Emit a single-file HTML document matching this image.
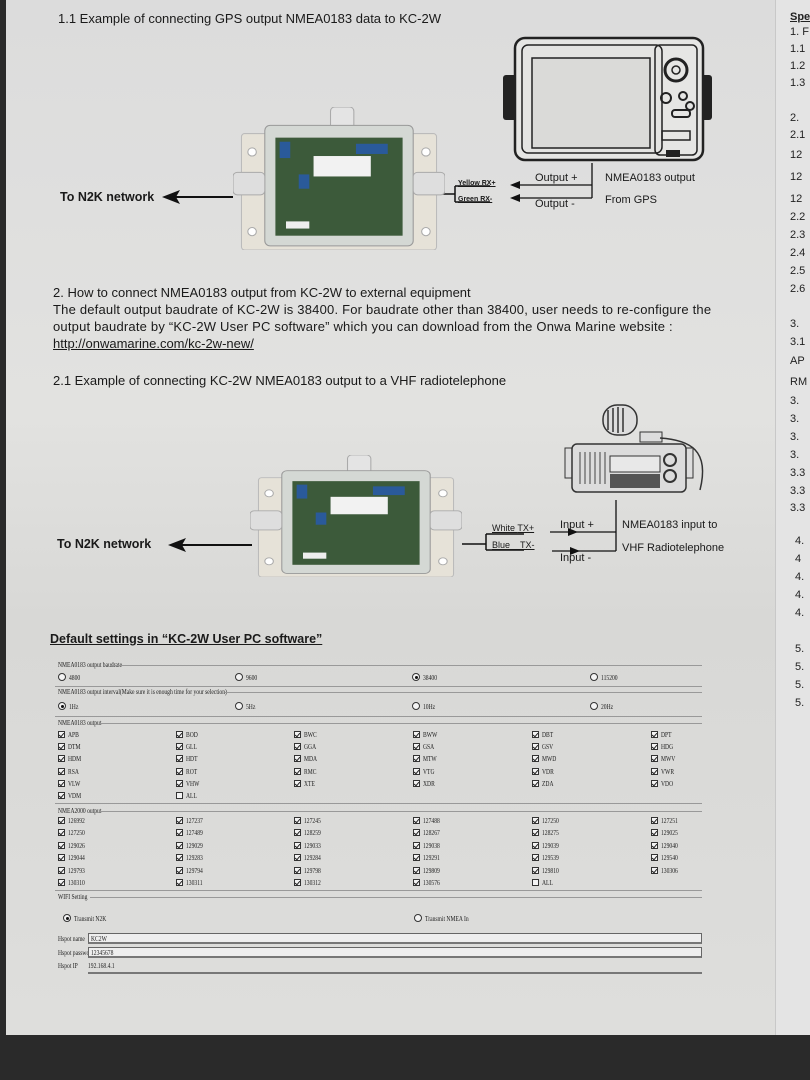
<!DOCTYPE html>
<html><head><meta charset="utf-8">
<style>
*{margin:0;padding:0;box-sizing:border-box}
body{width:810px;height:1080px;overflow:hidden;background:#2a2a2a;font-family:"Liberation Sans",sans-serif;color:#1a1a1a;position:relative}
.page{position:absolute;left:6px;top:0;width:770px;height:1035px;background:linear-gradient(180deg,#dcdcdc 0%,#e2e2e0 40%,#d8d8d6 60%,#dededc 100%)}
.rp{position:absolute;left:775px;top:0;width:35px;height:1035px;background:#e4e4e4;border-left:1px solid #c8c8c8}
.t{position:absolute;white-space:nowrap;font-size:13px;line-height:15px}
.s{position:absolute;white-space:nowrap;font-family:"Liberation Serif",serif;font-size:7px;line-height:8px;color:#222;transform:scaleX(0.8);transform-origin:left}
.cb{position:absolute;width:7px;height:7px;border:1px solid #333;background:#f4f4f4}
.cb.c::after{content:"";position:absolute;left:1px;top:0px;width:2px;height:4px;border:solid #222;border-width:0 1px 1px 0;transform:rotate(40deg)}
.rd{position:absolute;width:8px;height:8px;border:1px solid #333;border-radius:50%;background:#f4f4f4}
.rd.c::after{content:"";position:absolute;left:1.5px;top:1.5px;width:3px;height:3px;border-radius:50%;background:#111}
.hl{position:absolute;height:1px;background:#999}
.box{position:absolute;height:11px;border:1px solid #666;border-bottom:2px solid #777;background:#eee}
.r{position:absolute;left:790px;font-size:11px;color:#222;white-space:nowrap}
</style></head><body>
<div class="page"></div>
<div class="rp"></div>

<svg width="0" height="0" style="position:absolute">
<defs>
<symbol id="dev" viewBox="0 0 200 140" preserveAspectRatio="none">
  <rect x="92" y="0" width="22" height="22" rx="4" fill="#e4e4e4" stroke="#aaa"/>
  <rect x="8" y="26" width="184" height="114" rx="3" fill="#e6e2d8" stroke="#bbb"/>
  <rect x="30" y="18" width="140" height="118" rx="5" fill="#d4d8d4" stroke="#999"/>
  <rect x="40" y="30" width="120" height="96" fill="#3c5a3a"/>
  <rect x="44" y="34" width="10" height="16" fill="#2a5a9a"/>
  <rect x="62" y="66" width="10" height="14" fill="#2a5a9a"/>
  <rect x="116" y="36" width="30" height="10" fill="#2a5a9a"/>
  <rect x="76" y="48" width="54" height="20" fill="#f2f2f2"/>
  <rect x="50" y="112" width="22" height="7" fill="#eee"/>
  <rect x="0" y="64" width="30" height="22" rx="4" fill="#dedede" stroke="#aaa"/>
  <rect x="170" y="64" width="30" height="22" rx="4" fill="#dedede" stroke="#aaa"/>
  <circle cx="18" cy="44" r="4" fill="#fff" stroke="#aaa"/><circle cx="182" cy="44" r="4" fill="#fff" stroke="#aaa"/>
  <circle cx="18" cy="122" r="4" fill="#fff" stroke="#aaa"/><circle cx="182" cy="122" r="4" fill="#fff" stroke="#aaa"/>
</symbol>
</defs></svg>

<div class="t" style="left:58px;top:11px">1.1 Example of connecting GPS output NMEA0183 data to KC-2W</div>

<svg style="position:absolute;left:0;top:0" width="780" height="600">
  <rect x="503" y="75" width="14" height="45" rx="3" fill="#222"/>
  <rect x="701" y="75" width="11" height="45" rx="3" fill="#222"/>
  <rect x="515" y="38" width="188" height="122" rx="10" fill="#e6e6e4" stroke="#222" stroke-width="2.5"/>
  <rect x="522" y="45" width="140" height="108" rx="6" fill="#e4e4e2" stroke="#222" stroke-width="1.5"/>
  <rect x="532" y="58" width="118" height="90" fill="#dadad8" stroke="#222" stroke-width="1.5"/>
  <rect x="655" y="45" width="42" height="110" rx="5" fill="none" stroke="#222" stroke-width="1.5"/>
  <circle cx="676" cy="70" r="11" fill="none" stroke="#222" stroke-width="3"/>
  <circle cx="676" cy="70" r="4" fill="none" stroke="#222" stroke-width="1.5"/>
  <circle cx="666" cy="98" r="5" fill="none" stroke="#222" stroke-width="2"/>
  <circle cx="683" cy="96" r="4" fill="none" stroke="#222" stroke-width="2"/><circle cx="690" cy="106" r="4" fill="none" stroke="#222" stroke-width="2"/>
  <rect x="672" y="110" width="18" height="7" rx="3" fill="none" stroke="#222" stroke-width="2"/>
  <rect x="662" y="131" width="28" height="9" fill="none" stroke="#222" stroke-width="1.5"/>
  <rect x="666" y="150" width="14" height="7" fill="#222"/>
  <polyline points="592,163 592,198" fill="none" stroke="#111" stroke-width="1.3"/>
  <line x1="592" y1="185" x2="514" y2="185" stroke="#111" stroke-width="1.3"/>
  <line x1="592" y1="198" x2="514" y2="198" stroke="#111" stroke-width="1.3"/>
  <polygon points="510,185 520,181 520,189" fill="#111"/>
  <polygon points="510,198 520,194 520,202" fill="#111"/>
  <line x1="455" y1="186" x2="490" y2="186" stroke="#111" stroke-width="1.5"/>
  <line x1="455" y1="202" x2="490" y2="202" stroke="#111" stroke-width="1.5"/>
  <line x1="455" y1="186" x2="455" y2="202" stroke="#111" stroke-width="1.5"/>
  <line x1="440" y1="194" x2="455" y2="194" stroke="#111" stroke-width="1.5"/>
  <line x1="175" y1="197" x2="233" y2="197" stroke="#111" stroke-width="2"/>
  <polygon points="162,197 180,190 176,197 180,204" fill="#111"/>

  <rect x="603" y="405" width="34" height="30" rx="14" fill="#ddd" stroke="#333" stroke-width="1.5"/>
  <path d="M608 410 v20 M613 408 v24 M618 407 v26 M623 408 v24" stroke="#333" stroke-width="1.5"/>
  <rect x="640" y="432" width="22" height="10" fill="#ddd" stroke="#333"/>
  <path d="M660 438 C690 440,710 450,700 490" fill="none" stroke="#333" stroke-width="1.5"/>
  <rect x="565" y="448" width="8" height="30" fill="#ddd" stroke="#333"/>
  <rect x="685" y="448" width="8" height="30" fill="#ddd" stroke="#333"/>
  <rect x="572" y="444" width="114" height="48" rx="5" fill="#dcdcdc" stroke="#333" stroke-width="1.5"/>
  <path d="M580 452 v32 M585 452 v32 M590 452 v32 M595 452 v32 M600 452 v32 M605 452 v32" stroke="#444"/>
  <rect x="610" y="456" width="50" height="16" fill="#e8e8e8" stroke="#333"/>
  <rect x="610" y="474" width="50" height="14" fill="#555"/>
  <circle cx="670" cy="460" r="6" fill="none" stroke="#333" stroke-width="2"/>
  <circle cx="670" cy="476" r="6" fill="none" stroke="#333" stroke-width="2"/>
  <line x1="616" y1="500" x2="616" y2="551" stroke="#111" stroke-width="1.3"/>
  <line x1="550" y1="532" x2="616" y2="532" stroke="#111" stroke-width="1.3"/>
  <line x1="552" y1="551" x2="616" y2="551" stroke="#111" stroke-width="1.3"/>
  <polygon points="578,532 568,528 568,536" fill="#111"/>
  <polygon points="580,551 570,547 570,555" fill="#111"/>
  <line x1="486" y1="534" x2="524" y2="534" stroke="#111" stroke-width="1.5"/>
  <line x1="486" y1="550" x2="524" y2="550" stroke="#111" stroke-width="1.5"/>
  <line x1="486" y1="534" x2="486" y2="550" stroke="#111" stroke-width="1.5"/>
  <line x1="462" y1="544" x2="486" y2="544" stroke="#111" stroke-width="1.5"/>
  <line x1="182" y1="545" x2="252" y2="545" stroke="#111" stroke-width="2"/>
  <polygon points="168,545 186,538 182,545 186,552" fill="#111"/>
</svg>

<svg style="position:absolute;left:233px;top:107px" width="212" height="143" viewBox="0 0 212 143" preserveAspectRatio="none"><use href="#dev" x="0" y="0" width="212" height="143"/></svg>
<svg style="position:absolute;left:250px;top:455px" width="212" height="122" viewBox="0 0 212 122" preserveAspectRatio="none"><use href="#dev" x="0" y="0" width="212" height="122"/></svg>

<div class="t" style="left:60px;top:190px;font-weight:bold;font-size:12.5px">To N2K network</div>
<div class="t" style="left:458px;top:176px;font-size:7px;font-weight:bold;text-decoration:underline">Yellow <span style="text-decoration:none">RX+</span></div>
<div class="t" style="left:458px;top:192px;font-size:7px;font-weight:bold;text-decoration:underline">Green <span style="text-decoration:none">RX-</span></div>
<div class="t" style="left:535px;top:171px;font-size:11px">Output +</div>
<div class="t" style="left:535px;top:197px;font-size:11px">Output -</div>
<div class="t" style="left:605px;top:171px;font-size:11px">NMEA0183 output</div>
<div class="t" style="left:605px;top:193px;font-size:11px">From GPS</div>

<div class="t" style="left:53px;top:285px">2. How to connect NMEA0183 output from KC-2W to external equipment</div>
<div class="t" style="left:53px;top:302px;letter-spacing:0.2px">The default output baudrate of KC-2W is 38400. For baudrate other than 38400, user needs to re-configure the</div>
<div class="t" style="left:53px;top:319px;letter-spacing:0.2px">output baudrate by “KC-2W User PC software” which you can download from the Onwa Marine website :</div>
<div class="t" style="left:53px;top:336px;text-decoration:underline">http://onwamarine.com/kc-2w-new/</div>
<div class="t" style="left:53px;top:373px">2.1 Example of connecting KC-2W NMEA0183 output to a VHF radiotelephone</div>

<div class="t" style="left:57px;top:537px;font-weight:bold;font-size:12.5px">To N2K network</div>
<div class="t" style="left:492px;top:521px;font-size:9px;text-decoration:underline">White <span style="text-decoration:none">TX+</span></div>
<div class="t" style="left:492px;top:538px;font-size:9px;text-decoration:underline">Blue <span style="text-decoration:none">&nbsp;&nbsp;&nbsp;TX-</span></div>
<div class="t" style="left:560px;top:518px;font-size:11px">Input +</div>
<div class="t" style="left:560px;top:551px;font-size:11px">Input -</div>
<div class="t" style="left:622px;top:518px;font-size:11px">NMEA0183 input to</div>
<div class="t" style="left:622px;top:541px;font-size:11px">VHF Radiotelephone</div>

<div class="t" style="left:50px;top:632px;font-weight:bold;font-size:12.5px;text-decoration:underline">Default settings in “KC-2W User PC software”</div>

<div class="s" style="left:58px;top:661px">NMEA0183 output baudrate</div><div class="hl" style="left:110px;top:665px;width:592px"></div>
<div class="rd" style="left:58px;top:673px"></div><div class="s" style="left:69px;top:674px">4800</div>
<div class="rd" style="left:235px;top:673px"></div><div class="s" style="left:246px;top:674px">9600</div>
<div class="rd c" style="left:412px;top:673px"></div><div class="s" style="left:423px;top:674px">38400</div>
<div class="rd" style="left:590px;top:673px"></div><div class="s" style="left:601px;top:674px">115200</div>
<div class="hl" style="left:55px;top:686px;width:647px"></div>
<div class="s" style="left:58px;top:688px">NMEA0183 output interval(Make sure it is enough time for your selection)</div><div class="hl" style="left:225px;top:692px;width:477px"></div>
<div class="rd c" style="left:58px;top:702px"></div><div class="s" style="left:69px;top:703px">1Hz</div>
<div class="rd" style="left:235px;top:702px"></div><div class="s" style="left:246px;top:703px">5Hz</div>
<div class="rd" style="left:412px;top:702px"></div><div class="s" style="left:423px;top:703px">10Hz</div>
<div class="rd" style="left:590px;top:702px"></div><div class="s" style="left:601px;top:703px">20Hz</div>
<div class="hl" style="left:55px;top:716px;width:647px"></div>
<div class="s" style="left:58px;top:719px">NMEA0183 output</div><div class="hl" style="left:100px;top:723px;width:602px"></div>

<div class="hl" style="left:55px;top:803px;width:647px"></div>
<div class="s" style="left:58px;top:807px">NMEA2000 output</div><div class="hl" style="left:100px;top:811px;width:602px"></div>
<div class="hl" style="left:55px;top:890px;width:647px"></div>
<div class="s" style="left:58px;top:893px">WIFI Setting</div><div class="hl" style="left:90px;top:897px;width:612px"></div>
<div class="rd c" style="left:63px;top:914px"></div><div class="s" style="left:74px;top:915px">Transmit N2K</div>
<div class="rd" style="left:414px;top:914px"></div><div class="s" style="left:425px;top:915px">Transmit NMEA In</div>
<div class="s" style="left:58px;top:935px">Hspot name</div><div class="box" style="left:88px;top:933px;width:614px"></div><div class="s" style="left:91px;top:935px">KC2W</div>
<div class="s" style="left:58px;top:949px">Hspot password</div><div class="box" style="left:88px;top:947px;width:614px"></div><div class="s" style="left:91px;top:949px">12345678</div>
<div class="s" style="left:58px;top:962px">Hspot IP</div><div class="s" style="left:88px;top:962px">192.168.4.1</div><div class="hl" style="left:88px;top:972px;width:614px;height:2px;background:#777"></div>

<div style="position:absolute;left:0;top:0">
<div class="cb c" style="left:58px;top:731px"></div><div class="s" style="left:68px;top:731px">APB</div>
<div class="cb c" style="left:58px;top:743px"></div><div class="s" style="left:68px;top:743px">DTM</div>
<div class="cb c" style="left:58px;top:755px"></div><div class="s" style="left:68px;top:755px">HDM</div>
<div class="cb c" style="left:58px;top:768px"></div><div class="s" style="left:68px;top:768px">RSA</div>
<div class="cb c" style="left:58px;top:780px"></div><div class="s" style="left:68px;top:780px">VLW</div>
<div class="cb c" style="left:58px;top:792px"></div><div class="s" style="left:68px;top:792px">VDM</div>
<div class="cb c" style="left:176px;top:731px"></div><div class="s" style="left:186px;top:731px">BOD</div>
<div class="cb c" style="left:176px;top:743px"></div><div class="s" style="left:186px;top:743px">GLL</div>
<div class="cb c" style="left:176px;top:755px"></div><div class="s" style="left:186px;top:755px">HDT</div>
<div class="cb c" style="left:176px;top:768px"></div><div class="s" style="left:186px;top:768px">ROT</div>
<div class="cb c" style="left:176px;top:780px"></div><div class="s" style="left:186px;top:780px">VHW</div>
<div class="cb" style="left:176px;top:792px"></div><div class="s" style="left:186px;top:792px">ALL</div>
<div class="cb c" style="left:294px;top:731px"></div><div class="s" style="left:304px;top:731px">BWC</div>
<div class="cb c" style="left:294px;top:743px"></div><div class="s" style="left:304px;top:743px">GGA</div>
<div class="cb c" style="left:294px;top:755px"></div><div class="s" style="left:304px;top:755px">MDA</div>
<div class="cb c" style="left:294px;top:768px"></div><div class="s" style="left:304px;top:768px">RMC</div>
<div class="cb c" style="left:294px;top:780px"></div><div class="s" style="left:304px;top:780px">XTE</div>
<div class="cb c" style="left:413px;top:731px"></div><div class="s" style="left:423px;top:731px">BWW</div>
<div class="cb c" style="left:413px;top:743px"></div><div class="s" style="left:423px;top:743px">GSA</div>
<div class="cb c" style="left:413px;top:755px"></div><div class="s" style="left:423px;top:755px">MTW</div>
<div class="cb c" style="left:413px;top:768px"></div><div class="s" style="left:423px;top:768px">VTG</div>
<div class="cb c" style="left:413px;top:780px"></div><div class="s" style="left:423px;top:780px">XDR</div>
<div class="cb c" style="left:532px;top:731px"></div><div class="s" style="left:542px;top:731px">DBT</div>
<div class="cb c" style="left:532px;top:743px"></div><div class="s" style="left:542px;top:743px">GSV</div>
<div class="cb c" style="left:532px;top:755px"></div><div class="s" style="left:542px;top:755px">MWD</div>
<div class="cb c" style="left:532px;top:768px"></div><div class="s" style="left:542px;top:768px">VDR</div>
<div class="cb c" style="left:532px;top:780px"></div><div class="s" style="left:542px;top:780px">ZDA</div>
<div class="cb c" style="left:651px;top:731px"></div><div class="s" style="left:661px;top:731px">DPT</div>
<div class="cb c" style="left:651px;top:743px"></div><div class="s" style="left:661px;top:743px">HDG</div>
<div class="cb c" style="left:651px;top:755px"></div><div class="s" style="left:661px;top:755px">MWV</div>
<div class="cb c" style="left:651px;top:768px"></div><div class="s" style="left:661px;top:768px">VWR</div>
<div class="cb c" style="left:651px;top:780px"></div><div class="s" style="left:661px;top:780px">VDO</div>

<div class="cb c" style="left:58px;top:817px"></div><div class="s" style="left:68px;top:817px">126992</div>
<div class="cb c" style="left:58px;top:829px"></div><div class="s" style="left:68px;top:829px">127250</div>
<div class="cb c" style="left:58px;top:842px"></div><div class="s" style="left:68px;top:842px">129026</div>
<div class="cb c" style="left:58px;top:854px"></div><div class="s" style="left:68px;top:854px">129044</div>
<div class="cb c" style="left:58px;top:867px"></div><div class="s" style="left:68px;top:867px">129793</div>
<div class="cb c" style="left:58px;top:879px"></div><div class="s" style="left:68px;top:879px">130310</div>
<div class="cb c" style="left:176px;top:817px"></div><div class="s" style="left:186px;top:817px">127237</div>
<div class="cb c" style="left:176px;top:829px"></div><div class="s" style="left:186px;top:829px">127489</div>
<div class="cb c" style="left:176px;top:842px"></div><div class="s" style="left:186px;top:842px">129029</div>
<div class="cb c" style="left:176px;top:854px"></div><div class="s" style="left:186px;top:854px">129283</div>
<div class="cb c" style="left:176px;top:867px"></div><div class="s" style="left:186px;top:867px">129794</div>
<div class="cb c" style="left:176px;top:879px"></div><div class="s" style="left:186px;top:879px">130311</div>
<div class="cb c" style="left:294px;top:817px"></div><div class="s" style="left:304px;top:817px">127245</div>
<div class="cb c" style="left:294px;top:829px"></div><div class="s" style="left:304px;top:829px">128259</div>
<div class="cb c" style="left:294px;top:842px"></div><div class="s" style="left:304px;top:842px">129033</div>
<div class="cb c" style="left:294px;top:854px"></div><div class="s" style="left:304px;top:854px">129284</div>
<div class="cb c" style="left:294px;top:867px"></div><div class="s" style="left:304px;top:867px">129798</div>
<div class="cb c" style="left:294px;top:879px"></div><div class="s" style="left:304px;top:879px">130312</div>
<div class="cb c" style="left:413px;top:817px"></div><div class="s" style="left:423px;top:817px">127488</div>
<div class="cb c" style="left:413px;top:829px"></div><div class="s" style="left:423px;top:829px">128267</div>
<div class="cb c" style="left:413px;top:842px"></div><div class="s" style="left:423px;top:842px">129038</div>
<div class="cb c" style="left:413px;top:854px"></div><div class="s" style="left:423px;top:854px">129291</div>
<div class="cb c" style="left:413px;top:867px"></div><div class="s" style="left:423px;top:867px">129809</div>
<div class="cb c" style="left:413px;top:879px"></div><div class="s" style="left:423px;top:879px">130576</div>
<div class="cb c" style="left:532px;top:817px"></div><div class="s" style="left:542px;top:817px">127250</div>
<div class="cb c" style="left:532px;top:829px"></div><div class="s" style="left:542px;top:829px">128275</div>
<div class="cb c" style="left:532px;top:842px"></div><div class="s" style="left:542px;top:842px">129039</div>
<div class="cb c" style="left:532px;top:854px"></div><div class="s" style="left:542px;top:854px">129539</div>
<div class="cb c" style="left:532px;top:867px"></div><div class="s" style="left:542px;top:867px">129810</div>
<div class="cb" style="left:532px;top:879px"></div><div class="s" style="left:542px;top:879px">ALL</div>
<div class="cb c" style="left:651px;top:817px"></div><div class="s" style="left:661px;top:817px">127251</div>
<div class="cb c" style="left:651px;top:829px"></div><div class="s" style="left:661px;top:829px">129025</div>
<div class="cb c" style="left:651px;top:842px"></div><div class="s" style="left:661px;top:842px">129040</div>
<div class="cb c" style="left:651px;top:854px"></div><div class="s" style="left:661px;top:854px">129540</div>
<div class="cb c" style="left:651px;top:867px"></div><div class="s" style="left:661px;top:867px">130306</div>
</div>

<div class="r" style="top:11px;font-weight:bold;text-decoration:underline">Spe</div>
<div class="r" style="top:26px">1. F</div>
<div class="r" style="top:43px">1.1</div>
<div class="r" style="top:60px">1.2</div>
<div class="r" style="top:77px">1.3</div>
<div class="r" style="top:112px">2.</div>
<div class="r" style="top:129px">2.1</div>
<div class="r" style="top:149px">12</div>
<div class="r" style="top:171px">12</div>
<div class="r" style="top:193px">12</div>
<div class="r" style="top:211px">2.2</div>
<div class="r" style="top:229px">2.3</div>
<div class="r" style="top:247px">2.4</div>
<div class="r" style="top:265px">2.5</div>
<div class="r" style="top:283px">2.6</div>
<div class="r" style="top:318px">3.</div>
<div class="r" style="top:336px">3.1</div>
<div class="r" style="top:355px">AP</div>
<div class="r" style="top:376px">RM</div>
<div class="r" style="top:395px">3.</div>
<div class="r" style="top:413px">3.</div>
<div class="r" style="top:431px">3.</div>
<div class="r" style="top:449px">3.</div>
<div class="r" style="top:467px">3.3</div>
<div class="r" style="top:485px">3.3</div>
<div class="r" style="top:502px">3.3</div>
<div class="r" style="top:535px;left:795px">4.</div>
<div class="r" style="top:553px;left:795px">4</div>
<div class="r" style="top:571px;left:795px">4.</div>
<div class="r" style="top:589px;left:795px">4.</div>
<div class="r" style="top:607px;left:795px">4.</div>
<div class="r" style="top:643px;left:795px">5.</div>
<div class="r" style="top:661px;left:795px">5.</div>
<div class="r" style="top:679px;left:795px">5.</div>
<div class="r" style="top:697px;left:795px">5.</div>
</body></html>
